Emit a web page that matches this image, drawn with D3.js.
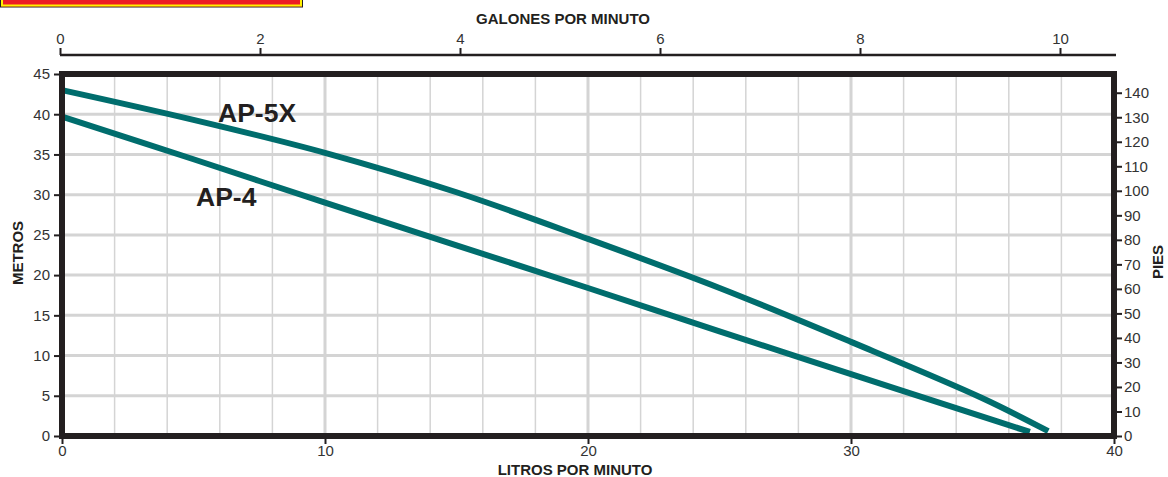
<!DOCTYPE html>
<html>
<head>
<meta charset="utf-8">
<script src="https://cdn.jsdelivr.net/npm/d3@7"></script>
<style>
  html, body { margin: 0; padding: 0; background: #fff; }
  svg { display: block; font-family: "Liberation Sans", Arial, sans-serif; }
</style>
</head>
<body>
<svg id="chart" width="1168" height="477"></svg>
<script>
// ---- data ----
const litros = [0, 5, 10, 15, 20, 25, 30, 35];
const ap5x = [43.0, 39.3, 35.2, 30.3, 24.5, 18.4, 11.7, 4.7];
const ap5xEnd = [37.5, 0.6];
const ap4 = [39.7, 34.4, 29.0, 23.7, 18.4, 13.0, 7.7, 2.4];
const ap4End = [36.8, 0.5];
const seriesNames = ["AP-5X", "AP-4"];
const litrosTicks = [0, 10, 20, 30, 40];
const galonesTicks = [0, 2, 4, 6, 8, 10];
const metrosTicks = [0, 5, 10, 15, 20, 25, 30, 35, 40, 45];
const piesTicks = [0, 10, 20, 30, 40, 50, 60, 70, 80, 90, 100, 110, 120, 130, 140];
const FT_PER_M = 3.28084;

const svg = d3.select("#chart");
const pL = 62, pR = 1114, pT = 74, pB = 436;

const x = d3.scaleLinear().domain([0, 40]).range([pL, pR]);
const y = d3.scaleLinear().domain([0, 45]).range([pB, pT]);
const yFt = d3.scaleLinear().domain([0, 45 * FT_PER_M]).range([pB, pT]);
const xGal = d3.scaleLinear().domain([0, 10]).range([60, 1060]);

// red title box (cropped at top)
svg.append("rect").attr("x", 0.5).attr("y", -10).attr("width", 302).attr("height", 17)
  .attr("fill", "#ed1c24").attr("stroke", "#231f20").attr("stroke-width", 1);
svg.append("rect").attr("x", 2).attr("y", -10).attr("width", 299).attr("height", 15.5)
  .attr("fill", "none").attr("stroke", "#fff200").attr("stroke-width", 2);

// grid
const grid = svg.append("g");
d3.range(2, 40, 2).forEach(v => {
  grid.append("line").attr("x1", x(v)).attr("x2", x(v)).attr("y1", pT).attr("y2", pB)
    .attr("stroke", "#d4d4d4").attr("stroke-width", v % 10 === 0 ? 3 : 1.5);
});
d3.range(5, 45, 5).forEach(v => {
  grid.append("line").attr("x1", pL).attr("x2", pR).attr("y1", y(v)).attr("y2", y(v))
    .attr("stroke", "#d4d4d4").attr("stroke-width", 3);
});

// curves
const line = d3.line().x(d => x(d[0])).y(d => y(d[1])).curve(d3.curveCatmullRom.alpha(0.5));
const d5 = litros.map((l, i) => [l, ap5x[i]]).concat([ap5xEnd]);
const d4 = litros.map((l, i) => [l, ap4[i]]).concat([ap4End]);
[d5, d4].forEach(d => {
  svg.append("path").attr("d", line(d)).attr("fill", "none")
    .attr("stroke", "#006d6d").attr("stroke-width", 6);
});

// axes
const tickStyle = g => {
  g.selectAll(".domain").remove();
  g.selectAll("line").attr("stroke", "#231f20").attr("stroke-width", 2);
  g.selectAll("text").attr("fill", "#333").attr("font-size", 15);
};
svg.append("g").attr("transform", `translate(${pL - 3},0)`)
  .call(d3.axisLeft(y).tickValues(metrosTicks).tickSize(5).tickPadding(4))
  .call(tickStyle);
svg.append("g").attr("transform", `translate(${pR + 3},0)`)
  .call(d3.axisRight(yFt).tickValues(piesTicks).tickSize(5).tickPadding(2))
  .call(tickStyle);
svg.append("g").attr("transform", `translate(0,${pB + 3})`)
  .call(d3.axisBottom(x).tickValues(litrosTicks).tickSize(5).tickPadding(1))
  .call(tickStyle);
const topAx = svg.append("g").attr("transform", `translate(0,55)`)
  .call(d3.axisTop(xGal).tickValues(galonesTicks).tickSize(7).tickPadding(4))
  .call(tickStyle);
topAx.append("line").attr("x1", 60).attr("x2", 1116).attr("y1", 0).attr("y2", 0)
  .attr("stroke", "#231f20").attr("stroke-width", 2.5);

// frame
svg.append("rect").attr("x", pL).attr("y", pT).attr("width", pR - pL).attr("height", pB - pT)
  .attr("fill", "none").attr("stroke", "#231f20").attr("stroke-width", 6);

// titles
const title = (t, tx, ty, rot) => svg.append("text").text(t)
  .attr("transform", `translate(${tx},${ty}) rotate(${rot})`)
  .attr("text-anchor", "middle").attr("font-weight", "bold").attr("font-size", 15).attr("fill", "#231f20");
title("GALONES POR MINUTO", 563, 24, 0);
title("LITROS POR MINUTO", 575, 475, 0);
title("METROS", 23, 253, -90);
title("PIES", 1163, 262, -90);

// series labels
svg.append("text").text(seriesNames[0]).attr("x", 218).attr("y", 122)
  .attr("font-weight", "bold").attr("font-size", 26.5).attr("fill", "#231f20");
svg.append("text").text(seriesNames[1]).attr("x", 196).attr("y", 206)
  .attr("font-weight", "bold").attr("font-size", 26.5).attr("fill", "#231f20");
</script>
</body>
</html>
